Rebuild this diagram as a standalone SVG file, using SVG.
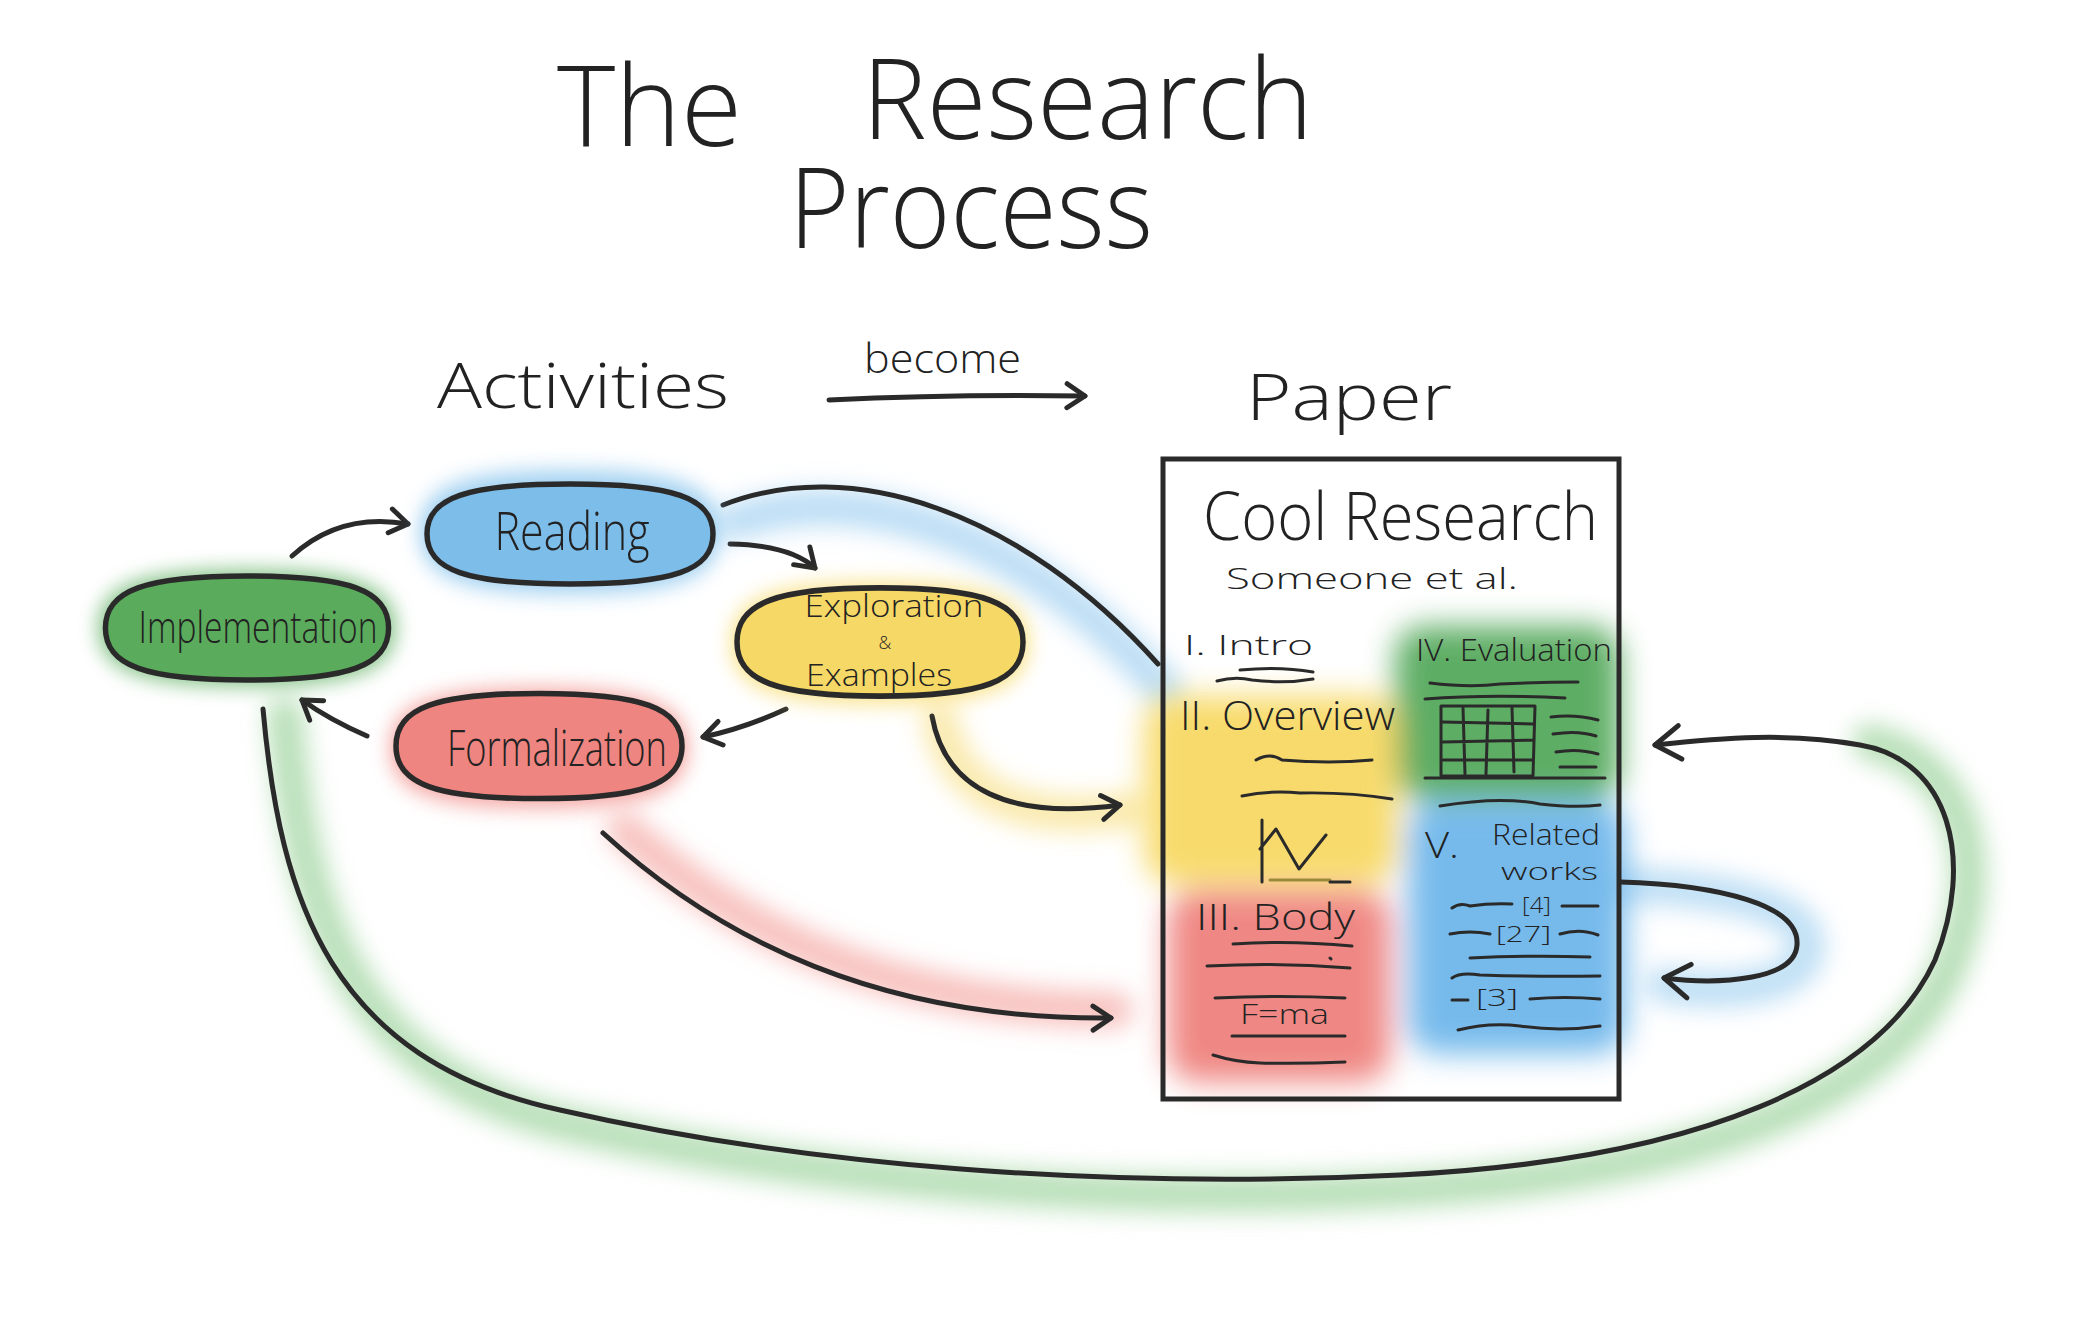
<svg xmlns="http://www.w3.org/2000/svg" width="2079" height="1334" viewBox="0 0 2079 1334">
<style>
.t{font-family:"Open Sans","Liberation Sans",sans-serif;font-weight:300;fill:#222}
.ln{fill:none;stroke:#2a2a2a;stroke-width:5;stroke-linecap:round;stroke-linejoin:round}
.sc{fill:none;stroke:#2a2a2a;stroke-width:3;stroke-linecap:round;stroke-linejoin:round}
.nd{stroke:#2a2a2a;stroke-width:5.5}
.halo{fill:none;stroke-width:36;stroke-linecap:round;opacity:0.5}
</style>
<defs>
<filter id="blur" x="-40%" y="-40%" width="180%" height="180%"><feGaussianBlur stdDeviation="12"/></filter>
<filter id="wash" x="-40%" y="-40%" width="180%" height="180%"><feGaussianBlur stdDeviation="15"/></filter>
<filter id="soft" x="-20%" y="-20%" width="140%" height="140%"><feGaussianBlur stdDeviation="9"/></filter>
<marker id="ah" viewBox="0 0 20 20" refX="16" refY="10" markerWidth="30" markerHeight="30" markerUnits="userSpaceOnUse" orient="auto"><path d="M4,2 L16,10 L4,18" fill="none" stroke="#2a2a2a" stroke-width="3.3" stroke-linecap="round" stroke-linejoin="round"/></marker>
<marker id="ahL" viewBox="0 0 20 20" refX="16" refY="10" markerWidth="42" markerHeight="42" markerUnits="userSpaceOnUse" orient="auto"><path d="M4,2 L16,10 L4,18" fill="none" stroke="#2a2a2a" stroke-width="2.4" stroke-linecap="round" stroke-linejoin="round"/></marker>
<path id="pill" d="M -143,0 C -143,-37 -103,-51 0,-51 C 103,-51 143,-37 143,0 C 143,37 103,51 0,51 C -103,51 -143,37 -143,0 Z"/>
</defs>
<rect width="2079" height="1334" fill="#fff"/>

<!-- halos under connectors -->
<g filter="url(#blur)">
<path class="halo" stroke="#78bbec" opacity="0.6" d="M 735,522 C 860,478 1030,535 1165,690"/>
<path class="halo" stroke="#f6d65e" d="M 940,720 C 955,795 1020,825 1130,810"/>
<path class="halo" stroke="#ef8580" d="M 625,830 C 735,930 890,1008 1115,1010"/>
<path class="halo" stroke="#6fbf72" d="M 285,715 C 300,910 350,1075 570,1125 C 810,1180 1100,1205 1400,1190 C 1700,1175 1895,1095 1950,965 C 1990,865 1965,765 1870,742"/>
<path class="halo" stroke="#7fc0ec" d="M 1620,885 C 1720,888 1810,905 1807,948 C 1805,990 1720,995 1664,985"/>
</g>

<!-- paper washes -->
<g filter="url(#wash)" opacity="0.9">
<rect x="1395" y="626" width="225" height="174" rx="30" fill="#4ea554"/>
<rect x="1145" y="696" width="252" height="188" rx="30" fill="#f7d75c"/>
<rect x="1168" y="890" width="222" height="192" rx="30" fill="#ee7b77"/>
<rect x="1408" y="802" width="218" height="252" rx="30" fill="#68b3ea"/>
</g>

<!-- title and headings -->
<text class="t" x="557" y="146" font-size="112" textLength="185" lengthAdjust="spacingAndGlyphs">The</text>
<text class="t" x="862" y="139" font-size="112" textLength="451" lengthAdjust="spacingAndGlyphs">Research</text>
<text class="t" x="789" y="248" font-size="112" textLength="364" lengthAdjust="spacingAndGlyphs">Process</text>
<text class="t" x="437" y="408" font-size="62" textLength="292" lengthAdjust="spacingAndGlyphs">Activities</text>
<text class="t" x="864" y="373" font-size="40" textLength="157" lengthAdjust="spacingAndGlyphs">become</text>
<text class="t" x="1246" y="420" font-size="64" textLength="206" lengthAdjust="spacingAndGlyphs">Paper</text>

<!-- connectors -->
<g id="connectors">
<path class="ln" stroke-width="6" marker-end="url(#ah)" d="M 829,400 Q 950,394 1085,396"/>
<path class="ln" marker-end="url(#ah)" d="M 292,556 Q 340,512 408,524"/>
<path class="ln" marker-end="url(#ah)" d="M 730,544 Q 790,545 815,568"/>
<path class="ln" marker-end="url(#ah)" d="M 786,709 Q 745,728 703,737"/>
<path class="ln" marker-end="url(#ah)" d="M 367,736 Q 330,720 302,700"/>
<path class="ln" d="M 723,505 C 850,455 1020,510 1158,664"/>
<path class="ln" marker-end="url(#ah)" d="M 932,716 C 945,790 1010,820 1120,805"/>
<path class="ln" marker-end="url(#ah)" d="M 603,833 C 720,940 880,1020 1111,1018"/>
<path class="ln" marker-end="url(#ahL)" d="M 263,709 C 280,900 330,1060 560,1110 C 800,1165 1100,1190 1400,1175 C 1700,1160 1880,1080 1935,960 C 1975,860 1950,760 1860,745 C 1790,732 1720,738 1655,745"/>
<path class="ln" marker-end="url(#ahL)" d="M 1620,882 C 1720,885 1800,905 1797,945 C 1795,980 1720,985 1664,978"/>
</g>

<!-- nodes -->
<g id="node-reading">
<use href="#pill" transform="translate(570,532) scale(1.05,1.2)" fill="#7fc0ec" filter="url(#soft)" opacity="0.75"/>
<use href="#pill" transform="translate(570,534) scale(1,0.98)" fill="#7dbdea" class="nd"/>
<text class="t" x="572" y="550" font-size="54" text-anchor="middle" textLength="155" lengthAdjust="spacingAndGlyphs">Reading</text>
</g>
<g id="node-implementation">
<use href="#pill" transform="translate(247,628) scale(1.04,1.14)" fill="#5cae5f" filter="url(#soft)" opacity="0.75"/>
<use href="#pill" transform="translate(247,628) scale(0.99,1.02)" fill="#5aab5c" class="nd"/>
<text class="t" x="258" y="643" font-size="44" text-anchor="middle" textLength="239" lengthAdjust="spacingAndGlyphs">Implementation</text>
</g>
<g id="node-exploration">
<use href="#pill" transform="translate(880,643) scale(1.04,1.18)" fill="#f7d860" filter="url(#soft)" opacity="0.75"/>
<use href="#pill" transform="translate(880,642) scale(1,1.06)" fill="#f6d866" class="nd"/>
<text class="t" font-size="32" text-anchor="middle"><tspan x="894" y="617" textLength="179" lengthAdjust="spacingAndGlyphs">Exploration</tspan><tspan x="885" y="649" font-size="18">&amp;</tspan><tspan x="879" y="686" textLength="146" lengthAdjust="spacingAndGlyphs">Examples</tspan></text>
</g>
<g id="node-formalization">
<use href="#pill" transform="translate(539,748) scale(1.04,1.16)" fill="#ef8580" filter="url(#soft)" opacity="0.75"/>
<use href="#pill" transform="translate(539,746) scale(1,1.03)" fill="#ef8580" class="nd"/>
<text class="t" x="557" y="766" font-size="50" text-anchor="middle" textLength="220" lengthAdjust="spacingAndGlyphs">Formalization</text>
</g>

<!-- paper -->
<g id="node-paper">
<rect x="1163" y="459" width="456" height="640" fill="none" stroke="#2a2a2a" stroke-width="5"/>
<text class="t" x="1203" y="540" font-size="66" textLength="395" lengthAdjust="spacingAndGlyphs">Cool Research</text>
<text class="t" x="1226" y="589" font-size="30" textLength="292" lengthAdjust="spacingAndGlyphs">Someone et al.</text>
<text class="t" x="1184" y="655" font-size="28" textLength="129" lengthAdjust="spacingAndGlyphs">I. Intro</text>
<text class="t" x="1416" y="661" font-size="32" textLength="196" lengthAdjust="spacingAndGlyphs">IV. Evaluation</text>
<text class="t" x="1180" y="730" font-size="40" textLength="215" lengthAdjust="spacingAndGlyphs">II. Overview</text>
<text class="t" x="1196" y="930" font-size="36" textLength="159" lengthAdjust="spacingAndGlyphs">III. Body</text>
<text class="t" x="1240" y="1024" font-size="28" textLength="89" lengthAdjust="spacingAndGlyphs">F=ma</text>
<text class="t" x="1425" y="858" font-size="36" textLength="34" lengthAdjust="spacingAndGlyphs">V.</text>
<text class="t" font-size="30"><tspan x="1492" y="845" textLength="108" lengthAdjust="spacingAndGlyphs">Related</tspan><tspan x="1501" y="880" font-size="24" textLength="97" lengthAdjust="spacingAndGlyphs">works</tspan></text>
<text class="t" x="1522" y="913" font-size="22" textLength="29" lengthAdjust="spacingAndGlyphs">[4]</text>
<text class="t" x="1496" y="942" font-size="22" textLength="55" lengthAdjust="spacingAndGlyphs">[27]</text>
<text class="t" x="1476" y="1006" font-size="24" textLength="42" lengthAdjust="spacingAndGlyphs">[3]</text>
<!-- scribbles -->
<path class="sc" d="M 1240,670 Q 1280,666 1313,672 M 1217,681 Q 1235,676 1252,680 Q 1285,684 1313,679"/>
<path class="sc" d="M 1430,683 Q 1470,688 1500,684 Q 1540,682 1578,682 M 1425,699 Q 1490,694 1565,698"/>
<path class="sc" d="M 1441,706 L 1535,706 L 1533,776 L 1441,776 Z M 1463,708 L 1465,774 M 1488,710 L 1486,774 M 1512,708 L 1514,772 M 1443,722 L 1533,724 M 1443,742 L 1533,740 M 1443,760 L 1533,760"/>
<path class="sc" d="M 1551,717 Q 1575,714 1598,720 M 1553,734 Q 1578,730 1596,736 M 1556,752 Q 1578,748 1598,754 M 1560,767 L 1596,767"/>
<path class="sc" d="M 1425,778 L 1605,778 M 1440,806 Q 1500,796 1540,804 Q 1575,808 1600,805"/>
<path class="sc" d="M 1256,760 Q 1270,752 1282,760 Q 1330,764 1372,760 M 1242,796 Q 1270,790 1300,793 Q 1350,792 1392,799"/>
<path class="sc" d="M 1262,820 L 1262,882 M 1260,849 L 1276,829 L 1299,869 L 1326,835"/>
<path fill="none" stroke="#9b8a3a" stroke-width="3" stroke-linecap="round" d="M 1270,880 L 1330,880"/>
<path class="sc" d="M 1330,882 L 1350,882"/>
<path class="sc" d="M 1233,944 Q 1290,940 1352,946 M 1207,966 Q 1280,962 1350,968 M 1330,958 L 1331,959 M 1215,998 Q 1280,995 1345,998 M 1232,1036 L 1345,1036 M 1213,1055 Q 1235,1062 1260,1063 Q 1300,1064 1345,1062"/>
<path class="sc" d="M 1452,908 Q 1460,902 1470,906 Q 1490,903 1512,904 M 1562,906 L 1598,906 M 1450,934 Q 1470,930 1490,934 M 1560,934 Q 1580,928 1598,935 M 1470,958 Q 1530,955 1590,957 M 1452,978 Q 1460,972 1480,975 Q 1540,977 1600,976 M 1452,1000 L 1468,1000 M 1530,999 Q 1565,996 1600,999 M 1458,1030 Q 1490,1022 1520,1026 Q 1560,1032 1600,1026"/>
</g>
</svg>
